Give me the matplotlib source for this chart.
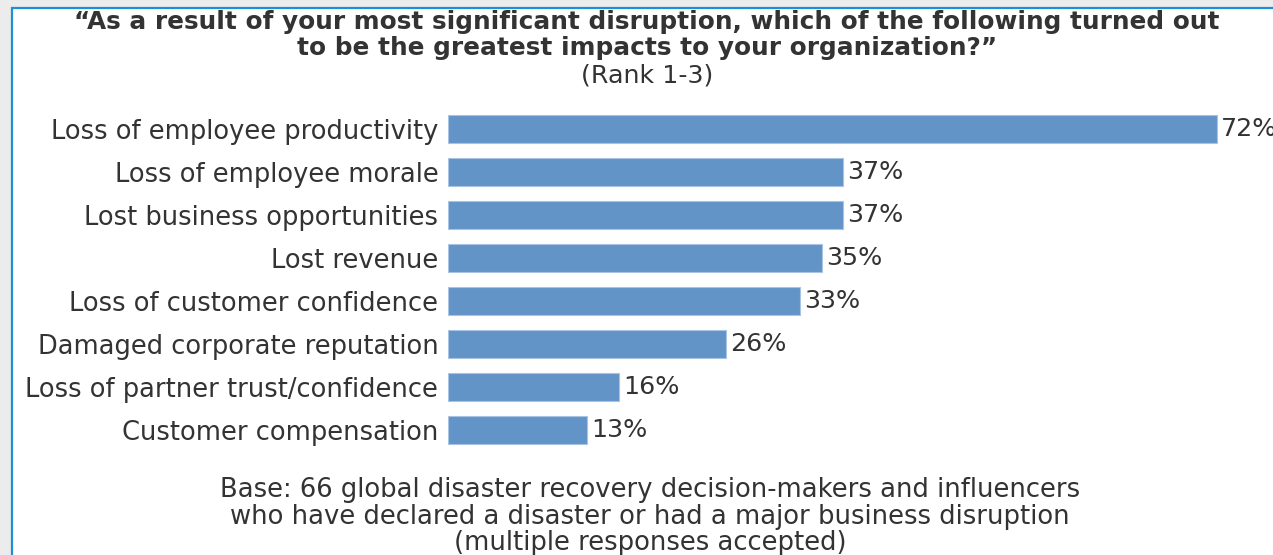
import matplotlib.pyplot as plt
from matplotlib.patches import Rectangle

# Data
categories = ['Loss of employee productivity', 'Loss of employee morale',
              'Lost business opportunities', 'Lost revenue',
              'Loss of customer confidence', 'Damaged corporate reputation',
              'Loss of partner trust/confidence', 'Customer compensation']
values = [72, 37, 37, 35, 33, 26, 16, 13]

title_lines = ['\u201cAs a result of your most significant disruption, which of the following turned out',
               'to be the greatest impacts to your organization?\u201d']
subtitle = '(Rank 1-3)'
footnote = ['Base: 66 global disaster recovery decision-makers and influencers',
            'who have declared a disaster or had a major business disruption',
            '(multiple responses accepted)']

W, H = 1273, 555
text_color = '#333333'
bar_color = '#6394c7'

plt.rcParams['font.family'] = ['DejaVu Sans']

fig = plt.figure(figsize=(W / 100, H / 100), dpi=100)
fig.patch.set_facecolor('#ececec')

# white panel with blue frame on left and top
panel = Rectangle((11.5 / W, -0.1), 1.2, (H - 8) / H + 0.1, transform=fig.transFigure,
                  facecolor='white', edgecolor='#1e8fd2', linewidth=1.6, zorder=-10)
fig.patches.append(panel)

# axes placed so that the bars line up with the reference
ax_left, ax_top, ax_bottom = 448, 107.5, 451.5
ax = fig.add_axes([ax_left / W, 1 - ax_bottom / H, (W - ax_left) / W, (ax_bottom - ax_top) / H])
ax.set_facecolor('none')
ax.set_zorder(5)

y = list(range(len(categories)))
ax.barh(y, values, height=0.67, color=bar_color, edgecolor='#a9c4e2', linewidth=0.8)
ax.set_xlim(0, (W - ax_left) / 10.68)
ax.set_ylim(len(categories) - 0.5, -0.5)

ax.set_yticks(y)
ax.set_yticklabels(categories, fontsize=18.5, color=text_color)
ax.tick_params(axis='y', length=0, pad=7)
ax.set_xticks([])
for s in ax.spines.values():
    s.set_visible(False)

for yi, v in zip(y, values):
    ax.annotate(f'{v}%', (v, yi), xytext=(3, 0), textcoords='offset points',
                va='center', ha='left', fontsize=18.3, color=text_color)

cx = 647 / W
fig.text(cx, 1 - 22 / H, title_lines[0], ha='center', va='center', fontsize=17.8,
         fontweight='bold', color=text_color)
fig.text(cx, 1 - 48 / H, title_lines[1], ha='center', va='center', fontsize=17.8,
         fontweight='bold', color=text_color)
fig.text(cx, 1 - 75 / H, subtitle, ha='center', va='center', fontsize=18.3, color=text_color)

for i, line in enumerate(footnote):
    fig.text(650 / W, 1 - (490 + 26.5 * i) / H, line, ha='center', va='center',
             fontsize=18.6, color=text_color)

fig.savefig('out.png', dpi=100, facecolor=fig.get_facecolor())
